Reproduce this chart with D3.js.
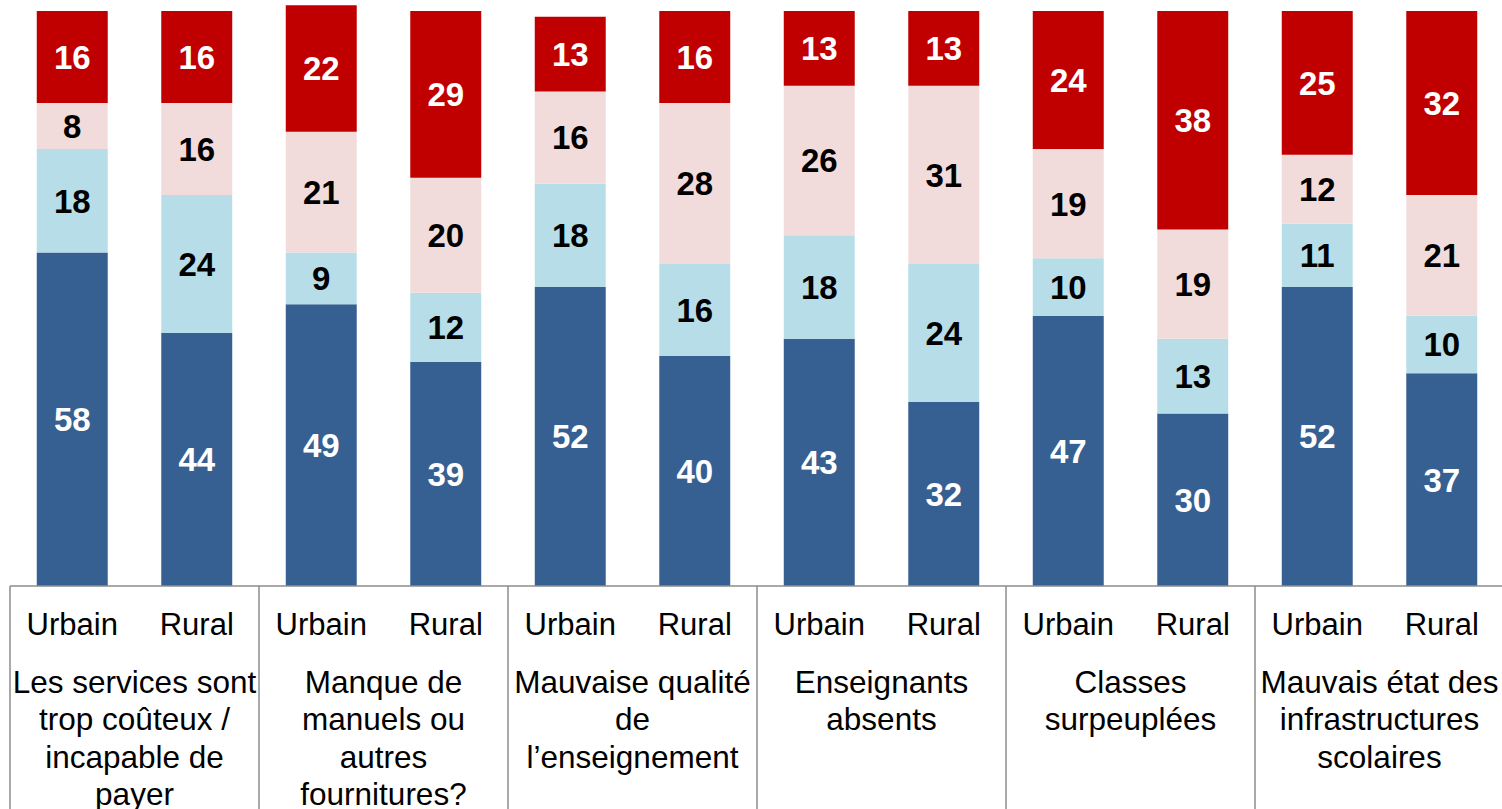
<!DOCTYPE html>
<html>
<head>
<meta charset="utf-8">
<script src="https://cdn.jsdelivr.net/npm/d3@7"></script>
<style>
  body { margin: 0; background: #fff; }
  text { font-family: "Liberation Sans", Arial, sans-serif; }
</style>
</head>
<body>
<svg id="chart" width="1502" height="809"></svg>
<script>
// Data *****
var groups = [
  ["Les services sont", "trop coûteux /", "incapable de", "payer"],
  ["Manque de", "manuels ou", "autres", "fournitures?"],
  ["Mauvaise qualité", "de", "l’enseignement"],
  ["Enseignants", "absents"],
  ["Classes", "surpeuplées"],
  ["Mauvais état des", "infrastructures", "scolaires"]
];
var areas = ["Urbain", "Rural"];

// one value per bar, order: g1 Urbain, g1 Rural, g2 Urbain, ...
var darkBlue  = [58, 44, 49, 39, 52, 40, 43, 32, 47, 30, 52, 37];
var lightBlue = [18, 24,  9, 12, 18, 16, 18, 24, 10, 13, 11, 10];
var pink      = [ 8, 16, 21, 20, 16, 28, 26, 31, 19, 19, 12, 21];
var red       = [16, 16, 22, 29, 13, 16, 13, 13, 24, 38, 25, 32];

var seriesColors = ["#376092", "#B7DEE8", "#F2DCDB", "#C00000"];
var labelColors = ["#fff", "#000", "#000", "#fff"];

// Build rows
var rows = [];
groups.forEach(function(g, gi) {
  areas.forEach(function(a, ai) {
    var i = gi * 2 + ai;
    rows.push({ key: "b" + i, area: a, s0: darkBlue[i], s1: lightBlue[i], s2: pink[i], s3: red[i] });
  });
});

var svg = d3.select("#chart");
var axisY = 586;
var left = 10, right = 1504;

var x = d3.scaleBand()
  .domain(rows.map(function(d) { return d.key }))
  .range([left, right])
  .paddingInner(0.43)
  .paddingOuter(0.215);

var y = d3.scaleLinear().domain([0, 100]).range([axisY, axisY - 575]);

var stack = d3.stack().keys(["s0", "s1", "s2", "s3"]);
var layers = stack(rows);

var layerG = svg.selectAll("g.layer")
  .data(layers).enter()
  .append("g")
  .attr("class", "layer");

layerG.selectAll("rect")
  .data(function(d) { return d }).enter()
  .append("rect")
  .attr("x", function(d) { return x(d.data.key) })
  .attr("width", x.bandwidth())
  .attr("y", function(d) { return y(d[1]) })
  .attr("height", function(d) { return y(d[0]) - y(d[1]) })
  .style("fill", function(d) { return seriesColors[d3.select(this.parentNode).datum().index] });

layerG.selectAll("text")
  .data(function(d) { return d.map(function(p) { return { p: p, idx: d.index, v: p.data[d.key] } }) }).enter()
  .append("text")
  .attr("x", function(d) { return x(d.p.data.key) + x.bandwidth() / 2 })
  .attr("y", function(d) { return (y(d.p[0]) + y(d.p[1])) / 2 })
  .attr("dy", "0.36em")
  .attr("text-anchor", "middle")
  .attr("font-size", "33px")
  .attr("font-weight", "bold")
  .style("fill", function(d) { return labelColors[d.idx] })
  .text(function(d) { return d.v });

// Axis line and group dividers
svg.append("line")
  .attr("x1", left).attr("x2", 1502)
  .attr("y1", axisY).attr("y2", axisY)
  .style("stroke", "#8c8c8c").style("stroke-width", 1.5);

var groupW = x.step() * 2;
svg.selectAll("line.div")
  .data(d3.range(groups.length + 1)).enter()
  .append("line")
  .attr("class", "div")
  .attr("x1", function(d) { return left + d * groupW })
  .attr("x2", function(d) { return left + d * groupW })
  .attr("y1", axisY).attr("y2", 809)
  .style("stroke", "#8c8c8c").style("stroke-width", 1.5);

// Urbain / Rural labels
svg.selectAll("text.area")
  .data(rows).enter()
  .append("text")
  .attr("class", "area")
  .attr("x", function(d) { return x(d.key) + x.bandwidth() / 2 })
  .attr("y", 635)
  .attr("text-anchor", "middle")
  .attr("font-size", "31px")
  .text(function(d) { return d.area });

// Group labels
var gl = svg.selectAll("text.group")
  .data(groups).enter()
  .append("text")
  .attr("class", "group")
  .attr("text-anchor", "middle")
  .attr("font-size", "31.5px");

gl.selectAll("tspan")
  .data(function(d, i) { return d.map(function(t) { return { t: t, gi: i } }) }).enter()
  .append("tspan")
  .attr("x", function(d) { return left + d.gi * groupW + groupW / 2 })
  .attr("y", function(d, i) { return 693 + i * 37.3 })
  .text(function(d) { return d.t });
</script>
</body>
</html>
